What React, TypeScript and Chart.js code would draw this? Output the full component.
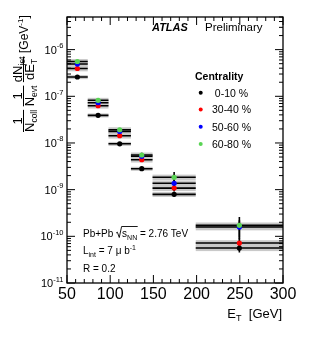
import React, { useEffect, useRef } from "react";
import { Chart, registerables } from "chart.js";

Chart.register(...registerables);

// ---------------- data ----------------
const binEdges = [50, 74, 98, 124, 149, 199, 300];
const binCenters = [62, 86, 111, 136.5, 174, 249.5];
const centralityLabels = ["0-10 %", "30-40 %", "50-60 %", "60-80 %"];
const seriesColors = ["#000000", "#ff0000", "#0000ff", "#59d454"];

const yield0010 = [2.59e-7, 3.91e-8, 9.6e-9, 2.81e-9, 7.94e-10, 5.61e-11];
const yield3040 = [3.94e-7, 6.28e-8, 1.43e-8, 4.38e-9, 1.08e-9, 7.18e-11];
const yield5060 = [4.91e-7, 7.28e-8, 1.77e-8, 5.18e-9, 1.37e-9, 1.58e-10];
const yield6080 = [5.56e-7, 8.2e-8, 1.92e-8, 5.52e-9, 1.84e-9, 1.72e-10];

// relative statistical uncertainties
const stat0010 = [0.02, 0.02, 0.03, 0.05, 0.1, 0.2];
const stat3040 = [0.02, 0.03, 0.04, 0.06, 0.15, 0.3];
const stat5060 = [0.03, 0.04, 0.05, 0.08, 0.2, 0.4];
const stat6080 = [0.03, 0.05, 0.06, 0.12, 0.3, 0.5];

// relative systematic uncertainties
const sys0010 = [0.1, 0.1, 0.1, 0.1, 0.12, 0.14];
const sys3040 = [0.13, 0.13, 0.13, 0.13, 0.14, 0.15];
const sys5060 = [0.13, 0.13, 0.13, 0.13, 0.14, 0.15];
const sys6080 = [0.13, 0.13, 0.13, 0.13, 0.14, 0.15];

const xTickLabels = [50, 100, 150, 200, 250, 300];
const yDecades = [-11, -10, -9, -8, -7, -6];
const xMin = 50;
const xMax = 300;
const yMin = 1e-11;
const yMax = 5e-6;

type Series = { label: string; color: string; values: number[]; stat: number[]; sys: number[] };
const seriesList: Series[] = [
  { label: centralityLabels[0], color: seriesColors[0], values: yield0010, stat: stat0010, sys: sys0010 },
  { label: centralityLabels[1], color: seriesColors[1], values: yield3040, stat: stat3040, sys: sys3040 },
  { label: centralityLabels[2], color: seriesColors[2], values: yield5060, stat: stat5060, sys: sys5060 },
  { label: centralityLabels[3], color: seriesColors[3], values: yield6080, stat: stat6080, sys: sys6080 },
];

const FONT = '"Liberation Sans", Arial, Helvetica, sans-serif';

type Piece = { t: string; size: number; dy?: number; style?: string };

function drawPieces(ctx: CanvasRenderingContext2D, x: number, y: number, pieces: Piece[]): number {
  let cx = x;
  for (const p of pieces) {
    ctx.font = `${p.style ? p.style + " " : ""}${p.size}px ${FONT}`;
    ctx.fillText(p.t, cx, y + (p.dy || 0));
    cx += ctx.measureText(p.t).width;
  }
  return cx;
}

function piecesWidth(ctx: CanvasRenderingContext2D, pieces: Piece[]): number {
  let w = 0;
  for (const p of pieces) {
    ctx.font = `${p.style ? p.style + " " : ""}${p.size}px ${FONT}`;
    w += ctx.measureText(p.t).width;
  }
  return w;
}

const overlay = {
  id: "atlasOverlay",
  beforeDatasetsDraw(chart: any) {
    const { ctx, chartArea: ca, scales } = chart;
    const xs = scales.x;
    const ys = scales.y;
    ctx.save();
    ctx.beginPath();
    ctx.rect(ca.left, ca.top, ca.right - ca.left, ca.bottom - ca.top);
    ctx.clip();
    // systematic boxes
    ctx.fillStyle = "#c9c9c9";
    for (const s of seriesList) {
      s.values.forEach((v, i) => {
        const x0 = xs.getPixelForValue(binEdges[i]);
        const x1 = xs.getPixelForValue(binEdges[i + 1]);
        const yt = ys.getPixelForValue(v * (1 + s.sys[i]));
        const yb = ys.getPixelForValue(v * (1 - s.sys[i]));
        ctx.fillRect(x0, yt, x1 - x0, yb - yt);
      });
    }
    // horizontal bin lines and vertical stat bars
    ctx.strokeStyle = "#000";
    ctx.lineWidth = 1.6;
    for (const s of seriesList) {
      s.values.forEach((v, i) => {
        const x0 = xs.getPixelForValue(binEdges[i]);
        const x1 = xs.getPixelForValue(binEdges[i + 1]);
        const xc = xs.getPixelForValue(binCenters[i]);
        const yc = ys.getPixelForValue(v);
        ctx.beginPath();
        ctx.moveTo(x0, yc);
        ctx.lineTo(x1, yc);
        ctx.moveTo(xc, ys.getPixelForValue(v * (1 + s.stat[i])));
        ctx.lineTo(xc, ys.getPixelForValue(v * (1 - s.stat[i])));
        ctx.stroke();
      });
    }
    ctx.restore();
  },
  afterDraw(chart: any) {
    const { ctx, chartArea: ca, scales } = chart;
    const xs = scales.x;
    const ys = scales.y;
    ctx.save();
    ctx.fillStyle = "#000";
    ctx.strokeStyle = "#000";

    // frame
    ctx.lineWidth = 1.3;
    ctx.strokeRect(ca.left, ca.top, ca.right - ca.left, ca.bottom - ca.top);

    // ticks
    ctx.lineWidth = 1;
    ctx.beginPath();
    for (let v = xMin; v <= xMax; v += 10) {
      const px = xs.getPixelForValue(v);
      const len = v % 50 === 0 ? 8 : 4;
      ctx.moveTo(px, ca.bottom);
      ctx.lineTo(px, ca.bottom - len);
      ctx.moveTo(px, ca.top);
      ctx.lineTo(px, ca.top + len);
    }
    for (const d of yDecades) {
      for (let k = 1; k <= 9; k++) {
        const v = k * Math.pow(10, d);
        if (v > yMax * 1.0001) break;
        const py = ys.getPixelForValue(v);
        const len = k === 1 ? 8 : 4;
        ctx.moveTo(ca.left, py);
        ctx.lineTo(ca.left + len, py);
        ctx.moveTo(ca.right, py);
        ctx.lineTo(ca.right - len, py);
      }
    }
    ctx.stroke();

    // x tick labels
    ctx.textBaseline = "alphabetic";
    ctx.textAlign = "center";
    ctx.font = `16px ${FONT}`;
    for (const v of xTickLabels) {
      ctx.fillText(String(v), xs.getPixelForValue(v), ca.bottom + 16);
    }

    // y tick labels
    ctx.textAlign = "left";
    for (const d of yDecades) {
      const py = ys.getPixelForValue(Math.pow(10, d));
      const pieces: Piece[] = [
        { t: "10", size: 11 },
        { t: String(d), size: 7.5, dy: -5.5 },
      ];
      const w = piecesWidth(ctx, pieces);
      drawPieces(ctx, ca.left - 3.5 - w, py + 4, pieces);
    }

    // x axis title
    {
      const pieces: Piece[] = [
        { t: "E", size: 13 },
        { t: "T", size: 9, dy: 3 },
        { t: "  [GeV]", size: 13 },
      ];
      const w = piecesWidth(ctx, pieces);
      drawPieces(ctx, 282 - w, 318, pieces);
    }

    // y axis title (rotated)
    ctx.save();
    ctx.translate(23, 133);
    ctx.rotate(-Math.PI / 2);
    const fraction = (u0: number, num: Piece[], den: Piece[]): number => {
      const wn = piecesWidth(ctx, num);
      const wd = piecesWidth(ctx, den);
      const w = Math.max(wn, wd);
      drawPieces(ctx, u0 + (w - wn) / 2, -1.5, num);
      drawPieces(ctx, u0 + (w - wd) / 2, 11, den);
      ctx.lineWidth = 1;
      ctx.beginPath();
      ctx.moveTo(u0, 0.5);
      ctx.lineTo(u0 + w, 0.5);
      ctx.stroke();
      return u0 + w;
    };
    let u = 1;
    u = fraction(u, [{ t: "1", size: 13 }], [{ t: "N", size: 13 }, { t: "coll", size: 8.5, dy: 3 }]);
    u = fraction(u + 3.5, [{ t: "1", size: 13 }], [{ t: "N", size: 13 }, { t: "evt", size: 8.5, dy: 3 }]);
    u = fraction(
      u + 3.5,
      [{ t: "dN", size: 13 }, { t: "jet", size: 8.5, dy: 3 }],
      [{ t: "dE", size: 13 }, { t: "T", size: 8.5, dy: 3 }]
    );
    drawPieces(ctx, u + 3.5, 5, [
      { t: "[GeV", size: 12 },
      { t: "-1", size: 8, dy: -5.5 },
      { t: "]", size: 12 },
    ]);
    ctx.restore();

    // ATLAS Preliminary
    drawPieces(ctx, 152, 31, [{ t: "ATLAS", size: 11, style: "italic bold" }]);
    drawPieces(ctx, 205, 31, [{ t: "Preliminary", size: 11.5 }]);

    // legend
    drawPieces(ctx, 195, 80, [{ t: "Centrality", size: 10.5, style: "bold" }]);
    const legendY = [92.7, 109.5, 126.7, 144];
    seriesList.forEach((s, i) => {
      ctx.fillStyle = s.color;
      ctx.beginPath();
      ctx.arc(200.7, legendY[i], 2, 0, Math.PI * 2);
      ctx.fill();
      ctx.fillStyle = "#000";
      ctx.textAlign = "center";
      ctx.font = `10.5px ${FONT}`;
      ctx.fillText(s.label, 231.5, legendY[i] + 3.8);
      ctx.textAlign = "left";
    });

    // collision info
    const x0 = 83;
    let b = 237;
    let cx = drawPieces(ctx, x0, b, [{ t: "Pb+Pb ", size: 10 }]);
    const sPieces: Piece[] = [
      { t: "s", size: 10 },
      { t: "NN", size: 7, dy: 2.5 },
    ];
    const sw = piecesWidth(ctx, sPieces);
    ctx.lineWidth = 0.9;
    ctx.beginPath();
    ctx.moveTo(cx, b - 4);
    ctx.lineTo(cx + 1.3, b - 4.8);
    ctx.lineTo(cx + 3.2, b + 0.5);
    ctx.lineTo(cx + 5.5, b - 10.5);
    ctx.lineTo(cx + 6.5 + sw, b - 10.5);
    ctx.stroke();
    cx = drawPieces(ctx, cx + 6, b, sPieces);
    drawPieces(ctx, cx, b, [{ t: " = 2.76 TeV", size: 10 }]);

    b = 254;
    drawPieces(ctx, x0, b, [
      { t: "L", size: 10 },
      { t: "int", size: 7, dy: 2.5 },
      { t: " = 7 \u03bc b", size: 10 },
      { t: "-1", size: 7, dy: -4.5 },
    ]);
    b = 271.5;
    drawPieces(ctx, x0, b, [{ t: "R = 0.2", size: 10 }]);

    ctx.restore();
  },
};

export default function App() {
  const ref = useRef<HTMLCanvasElement>(null);
  useEffect(() => {
    const canvas = ref.current!;
    const ordered = [...seriesList].reverse(); // green drawn on top
    const chart = new Chart(canvas, {
      type: "scatter",
      data: {
        datasets: ordered.map((s) => ({
          label: s.label,
          data: binCenters.map((x, i) => ({ x, y: s.values[i] })),
          pointRadius: 2.6,
          pointHoverRadius: 2.6,
          pointBackgroundColor: s.color,
          pointBorderColor: s.color,
          pointBorderWidth: 0,
          showLine: false,
        })),
      },
      options: {
        responsive: false,
        animation: false,
        devicePixelRatio: 1,
        events: [],
        layout: { padding: { left: 67, right: 49, top: 17, bottom: 55 } },
        plugins: { legend: { display: false }, tooltip: { enabled: false } },
        scales: {
          x: { type: "linear", min: xMin, max: xMax, display: false },
          y: { type: "logarithmic", min: yMin, max: yMax, display: false },
        },
      },
      plugins: [overlay],
    } as any);
    return () => chart.destroy();
  }, []);
  return (
    <div style={{ position: "fixed", left: 0, top: 0, width: 332, height: 338, background: "#fff" }}>
      <canvas ref={ref} width={332} height={338} style={{ display: "block", width: 332, height: 338 }} />
    </div>
  );
}
